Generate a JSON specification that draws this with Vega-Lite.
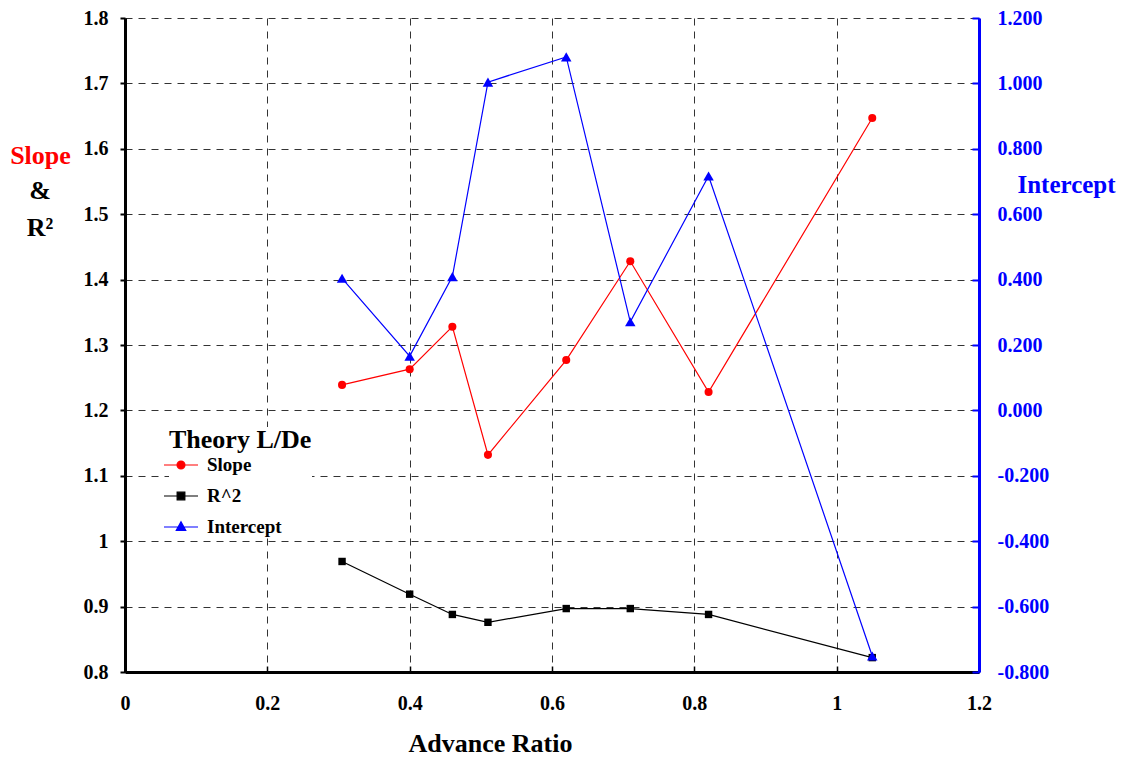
{
  "$schema": "https://vega.github.io/schema/vega-lite/v6.json",
  "width": 854,
  "height": 654,
  "autosize": {"type": "none"},
  "padding": {"left": 125, "top": 18, "right": 146, "bottom": 85},
  "background": "white",
  "config": {"font": "Liberation Serif", "view": {"stroke": null}},
  "title": {"text": ["&", "R²"], "anchor": "start", "frame": "group", "orient": "top", "align": "center", "baseline": "top", "dx": -85, "dy": 237, "font": "Liberation Serif", "fontSize": 26, "fontWeight": "bold", "color": "black", "lineHeight": 37},
  "data": {"values": [
    {"ratio": 0.305, "series": "Slope", "value": 1.239},
    {"ratio": 0.40, "series": "Slope", "value": 1.263},
    {"ratio": 0.46, "series": "Slope", "value": 1.328},
    {"ratio": 0.51, "series": "Slope", "value": 1.132},
    {"ratio": 0.62, "series": "Slope", "value": 1.277},
    {"ratio": 0.71, "series": "Slope", "value": 1.428},
    {"ratio": 0.82, "series": "Slope", "value": 1.228},
    {"ratio": 1.05, "series": "Slope", "value": 1.647},
    {"ratio": 0.305, "series": "R^2", "value": 0.969},
    {"ratio": 0.40, "series": "R^2", "value": 0.919},
    {"ratio": 0.46, "series": "R^2", "value": 0.888},
    {"ratio": 0.51, "series": "R^2", "value": 0.876},
    {"ratio": 0.62, "series": "R^2", "value": 0.897},
    {"ratio": 0.71, "series": "R^2", "value": 0.897},
    {"ratio": 0.82, "series": "R^2", "value": 0.888},
    {"ratio": 1.05, "series": "R^2", "value": 0.822},
    {"ratio": 0.305, "series": "Intercept", "value": 0.404},
    {"ratio": 0.40, "series": "Intercept", "value": 0.166},
    {"ratio": 0.46, "series": "Intercept", "value": 0.409},
    {"ratio": 0.51, "series": "Intercept", "value": 1.004},
    {"ratio": 0.62, "series": "Intercept", "value": 1.081},
    {"ratio": 0.71, "series": "Intercept", "value": 0.271},
    {"ratio": 0.82, "series": "Intercept", "value": 0.717},
    {"ratio": 1.05, "series": "Intercept", "value": -0.751}
  ]},
  "layer": [
    {
      "transform": [{"filter": "datum.series !== 'Intercept'"}],
      "encoding": {
        "x": {"field": "ratio", "type": "quantitative", "scale": {"domain": [0, 1.2], "nice": false, "zero": false},
          "axis": {"title": "Advance Ratio", "values": [0, 0.2, 0.4, 0.6, 0.8, 1, 1.2], "labelExpr": "format(datum.value, '~g')", "labelFont": "Liberation Serif", "labelFontSize": 20, "labelFontWeight": "bold", "labelColor": "black", "labelPadding": 27, "labelFlush": false, "labelOverlap": false, "tickSize": -6, "tickColor": "black", "tickWidth": 1.5, "domainColor": "black", "domainWidth": 3, "grid": true, "gridColor": "#333333", "gridDash": [7, 6], "gridWidth": 1, "titleFont": "Liberation Serif", "titleFontSize": 26, "titleFontWeight": "bold", "titleColor": "black", "titleX": 365, "titleY": 79, "titleBaseline": "alphabetic", "titleAlign": "center"}},
        "y": {"field": "value", "type": "quantitative", "scale": {"domain": [0.8, 1.8], "nice": false, "zero": false},
          "axis": {"title": "Slope", "values": [0.8, 0.9, 1, 1.1, 1.2, 1.3, 1.4, 1.5, 1.6, 1.7, 1.8], "labelExpr": "format(datum.value, '~g')", "labelFont": "Liberation Serif", "labelFontSize": 20, "labelFontWeight": "bold", "labelColor": "black", "labelPadding": 12, "labelFlush": false, "labelOverlap": false, "tickSize": 5, "tickWidth": 2, "tickColor": "black", "domainColor": "black", "domainWidth": 3, "grid": true, "gridColor": "#333333", "gridDash": [7, 6], "gridWidth": 1, "titleAngle": 0, "titleColor": "#ff0000", "titleFont": "Liberation Serif", "titleFontSize": 26, "titleFontWeight": "bold", "titleX": -85, "titleY": 145, "titleAlign": "center", "titleBaseline": "alphabetic"}}
      },
      "layer": [
        {"mark": {"type": "line", "strokeWidth": 1.2},
          "encoding": {"color": {"field": "series", "type": "nominal", "scale": {"domain": ["Slope", "R^2", "Intercept"], "range": ["#ff0000", "#000000", "#0000ff"]},
            "legend": {"title": "Theory L/De", "orient": "none", "legendX": 44, "legendY": 409, "fillColor": "white", "padding": 0, "titleFont": "Liberation Serif", "titleFontSize": 26, "titleFontWeight": "bold", "titleColor": "black", "titlePadding": 0, "labelFont": "Liberation Serif", "labelFontSize": 19, "labelFontWeight": "bold", "labelColor": "black", "symbolSize": 484, "symbolOpacity": 1, "symbolStrokeWidth": 1.2, "rowPadding": 9, "labelOffset": 14}}}},
        {"transform": [{"filter": "datum.series === 'Slope'"}],
          "mark": {"type": "point", "filled": true, "opacity": 1, "size": 65, "shape": "circle"},
          "encoding": {"color": {"field": "series", "type": "nominal", "scale": {"domain": ["Slope", "R^2", "Intercept"], "range": ["#ff0000", "#000000", "#0000ff"]},
            "legend": {"title": "Theory L/De", "orient": "none", "legendX": 44, "legendY": 409, "fillColor": "white", "padding": 0, "titleFont": "Liberation Serif", "titleFontSize": 26, "titleFontWeight": "bold", "titleColor": "black", "titlePadding": 0, "labelFont": "Liberation Serif", "labelFontSize": 19, "labelFontWeight": "bold", "labelColor": "black", "symbolSize": 484, "symbolOpacity": 1, "symbolStrokeWidth": 1.2, "rowPadding": 9, "labelOffset": 14}}}},
        {"transform": [{"filter": "datum.series === 'R^2'"}],
          "mark": {"type": "point", "filled": true, "opacity": 1, "size": 55, "shape": "square"},
          "encoding": {"color": {"field": "series", "type": "nominal", "scale": {"domain": ["Slope", "R^2", "Intercept"], "range": ["#ff0000", "#000000", "#0000ff"]},
            "legend": {"title": "Theory L/De", "orient": "none", "legendX": 44, "legendY": 409, "fillColor": "white", "padding": 0, "titleFont": "Liberation Serif", "titleFontSize": 26, "titleFontWeight": "bold", "titleColor": "black", "titlePadding": 0, "labelFont": "Liberation Serif", "labelFontSize": 19, "labelFontWeight": "bold", "labelColor": "black", "symbolSize": 484, "symbolOpacity": 1, "symbolStrokeWidth": 1.2, "rowPadding": 9, "labelOffset": 14}}}},
        {"mark": {"type": "point", "filled": true, "opacity": 0, "size": 484, "strokeWidth": 1.2},
          "encoding": {
            "color": {"field": "series", "type": "nominal", "scale": {"domain": ["Slope", "R^2", "Intercept"], "range": ["#ff0000", "#000000", "#0000ff"]},
              "legend": {"title": "Theory L/De", "orient": "none", "legendX": 44, "legendY": 409, "fillColor": "white", "padding": 0, "titleFont": "Liberation Serif", "titleFontSize": 26, "titleFontWeight": "bold", "titleColor": "black", "titlePadding": 0, "labelFont": "Liberation Serif", "labelFontSize": 19, "labelFontWeight": "bold", "labelColor": "black", "symbolSize": 484, "symbolOpacity": 1, "symbolStrokeWidth": 1.2, "rowPadding": 9, "labelOffset": 14}},
            "stroke": {"field": "series", "type": "nominal", "scale": {"domain": ["Slope", "R^2", "Intercept"], "range": ["#ff0000", "#000000", "#0000ff"]},
              "legend": {"title": "Theory L/De", "orient": "none", "legendX": 44, "legendY": 409, "fillColor": "white", "padding": 0, "titleFont": "Liberation Serif", "titleFontSize": 26, "titleFontWeight": "bold", "titleColor": "black", "titlePadding": 0, "labelFont": "Liberation Serif", "labelFontSize": 19, "labelFontWeight": "bold", "labelColor": "black", "symbolSize": 484, "symbolOpacity": 1, "symbolStrokeWidth": 1.2, "rowPadding": 9, "labelOffset": 14}},
            "shape": {"field": "series", "type": "nominal", "scale": {"domain": ["Slope", "R^2", "Intercept"], "range": ["M-1.55,0H1.55M-0.36,0A0.36,0.36 0 1,0 0.36,0A0.36,0.36 0 1,0 -0.36,0Z", "M-1.55,0H1.55M-0.35,-0.35H0.35V0.35H-0.35Z", "M-1.55,0H1.55M0,-0.48L0.43,0.3H-0.43Z"]},
              "legend": {"title": "Theory L/De", "orient": "none", "legendX": 44, "legendY": 409, "fillColor": "white", "padding": 0, "titleFont": "Liberation Serif", "titleFontSize": 26, "titleFontWeight": "bold", "titleColor": "black", "titlePadding": 0, "labelFont": "Liberation Serif", "labelFontSize": 19, "labelFontWeight": "bold", "labelColor": "black", "symbolSize": 484, "symbolOpacity": 1, "symbolStrokeWidth": 1.2, "rowPadding": 9, "labelOffset": 14}}
          }}
      ]
    },
    {
      "transform": [{"filter": "datum.series === 'Intercept'"}],
      "encoding": {
        "x": {"field": "ratio", "type": "quantitative", "scale": {"domain": [0, 1.2], "nice": false, "zero": false}},
        "y": {"field": "value", "type": "quantitative", "scale": {"domain": [-0.8, 1.2], "nice": false, "zero": false},
          "axis": {"orient": "right", "title": "Intercept", "values": [-0.8, -0.6, -0.4, -0.2, 0, 0.2, 0.4, 0.6, 0.8, 1, 1.2], "labelExpr": "replace(format(datum.value, '.3f'), '−', '-')", "labelFont": "Liberation Serif", "labelFontSize": 20, "labelFontWeight": "bold", "labelColor": "#0000ff", "labelPadding": 25, "labelFlush": false, "labelOverlap": false, "tickSize": -7, "tickWidth": 2, "tickColor": "#0000ff", "domainColor": "#0000ff", "domainWidth": 3, "grid": false, "titleAngle": 0, "titleColor": "#0000ff", "titleFont": "Liberation Serif", "titleFontSize": 25, "titleFontWeight": "bold", "titleX": 87, "titleY": 174, "titleAlign": "center", "titleBaseline": "alphabetic"}}
      },
      "layer": [
        {"mark": {"type": "line", "strokeWidth": 1.2},
          "encoding": {"color": {"field": "series", "type": "nominal", "scale": {"domain": ["Slope", "R^2", "Intercept"], "range": ["#ff0000", "#000000", "#0000ff"]},
            "legend": {"title": "Theory L/De", "orient": "none", "legendX": 44, "legendY": 409, "fillColor": "white", "padding": 0, "titleFont": "Liberation Serif", "titleFontSize": 26, "titleFontWeight": "bold", "titleColor": "black", "titlePadding": 0, "labelFont": "Liberation Serif", "labelFontSize": 19, "labelFontWeight": "bold", "labelColor": "black", "symbolSize": 484, "symbolOpacity": 1, "symbolStrokeWidth": 1.2, "rowPadding": 9, "labelOffset": 14}}}},
        {"mark": {"type": "point", "filled": true, "opacity": 1, "size": 110, "shape": "triangle-up"},
          "encoding": {"color": {"field": "series", "type": "nominal", "scale": {"domain": ["Slope", "R^2", "Intercept"], "range": ["#ff0000", "#000000", "#0000ff"]},
            "legend": {"title": "Theory L/De", "orient": "none", "legendX": 44, "legendY": 409, "fillColor": "white", "padding": 0, "titleFont": "Liberation Serif", "titleFontSize": 26, "titleFontWeight": "bold", "titleColor": "black", "titlePadding": 0, "labelFont": "Liberation Serif", "labelFontSize": 19, "labelFontWeight": "bold", "labelColor": "black", "symbolSize": 484, "symbolOpacity": 1, "symbolStrokeWidth": 1.2, "rowPadding": 9, "labelOffset": 14}}}}
      ]
    }
  ],
  "resolve": {"scale": {"y": "independent"}}
}
